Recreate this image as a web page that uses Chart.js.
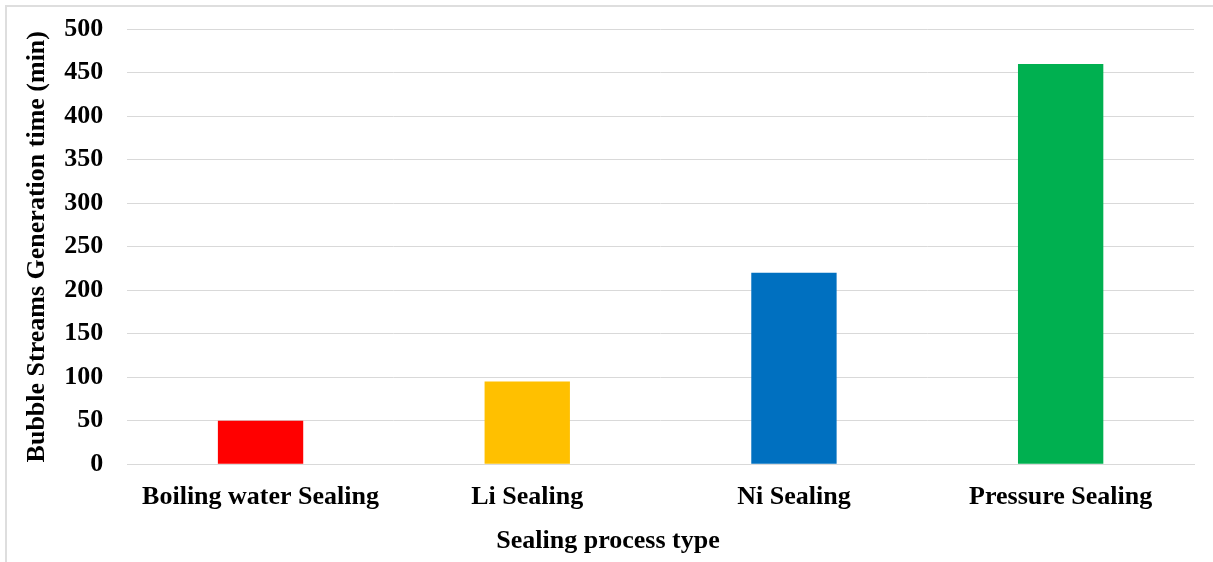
<!DOCTYPE html>
<html>
<head>
<meta charset="utf-8">
<script src="https://cdn.jsdelivr.net/npm/chart.js@4/dist/chart.umd.min.js"></script>
<style>
  html, body { margin: 0; padding: 0; background: #fff; }
  #wrap { position: relative; width: 1213px; height: 562px; }
  #frame { position: absolute; left: 5px; top: 5px; right: 0; bottom: 0;
           border-top: 2px solid #dedede; border-left: 2px solid #dedede; }
  canvas { position: absolute; left: 0; top: 0; }
</style>
</head>
<body>
<div id="wrap">
  <div id="frame"></div>
  <canvas id="myChart" width="1213" height="562"></canvas>
</div>
<script>
// data
var categories = ['Boiling water Sealing', 'Li Sealing', 'Ni Sealing', 'Pressure Sealing'];
var bubbleTime = [50, 95, 220, 460];
var barColors = ['#FF0000', '#FFC000', '#0070C0', '#00B050'];

var font = 'Liberation Serif, Times New Roman, serif';
var ctx = document.getElementById('myChart');

var myBarChart = new Chart(ctx, {
    type: 'bar',
    data: {
        labels: categories,
        datasets: [{
            data: bubbleTime,
            backgroundColor: barColors,
            borderWidth: 0,
            barPercentage: 0.32,
            categoryPercentage: 1
        }]
    },
    options: {
        responsive: false,
        animation: false,
        layout: {
            padding: { left: 22, right: 19, top: 8, bottom: 6 }
        },
        plugins: {
            legend: { display: false },
            tooltip: { enabled: false },
            title: {
                display: true,
                position: 'bottom',
                text: 'Sealing process type',
                color: '#000',
                font: { family: font, size: 26, weight: 'bold', lineHeight: 1.1 },
                padding: { top: 6, bottom: 0 }
            }
        },
        scales: {
            x: {
                grid: { display: false },
                border: { display: true, color: '#d9d9d9', width: 1 },
                ticks: {
                    color: '#000',
                    padding: 9,
                    maxRotation: 0,
                    font: { family: font, size: 26, weight: 'bold' }
                }
            },
            y: {
                min: 0,
                max: 500,
                border: { display: false },
                grid: { color: '#d9d9d9', lineWidth: 1, drawTicks: false },
                ticks: {
                    stepSize: 50,
                    color: '#000',
                    padding: 11,
                    font: { family: font, size: 26, weight: 'bold', lineHeight: 1.4 },
                    callback: function(value) { return value + '  '; }
                },
                title: {
                    display: true,
                    text: 'Bubble Streams Generation time (min)',
                    color: '#000',
                    font: { family: font, size: 26, weight: 'bold' },
                    padding: { top: 0, bottom: 0 }
                }
            }
        }
    }
});
</script>
</body>
</html>
